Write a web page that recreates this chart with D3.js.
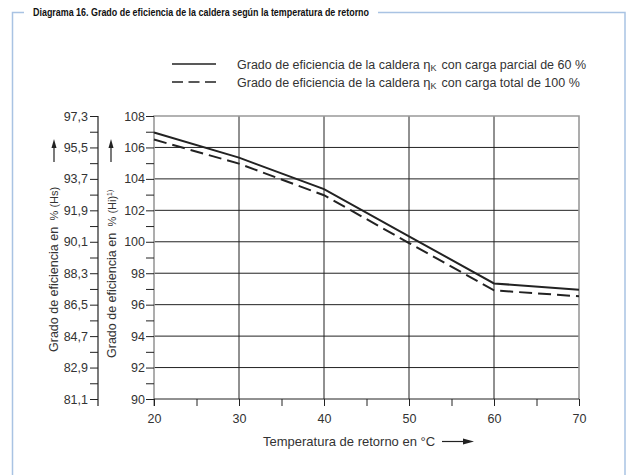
<!DOCTYPE html>
<html><head><meta charset="utf-8">
<script src="https://cdn.jsdelivr.net/npm/d3@7"></script>
<style>
html,body{margin:0;padding:0;background:#fff;}
svg{display:block;font-family:"Liberation Sans",Arial,sans-serif;}
</style></head>
<body>
<script>
const temps = [20, 30, 40, 50, 60, 70];
const partialLoad = [106.95, 105.35, 103.35, 100.35, 97.35, 96.95];
const fullLoad = [106.5, 104.97, 102.96, 99.92, 96.91, 96.53];
const hiTicks = [90, 92, 94, 96, 98, 100, 102, 104, 106, 108];
const hsTicks = [81.1, 82.9, 84.7, 86.5, 88.3, 90.1, 91.9, 93.7, 95.5, 97.3];
const xTicks = [20, 30, 40, 50, 60, 70];
const titleText = "Diagrama 16. Grado de eficiencia de la caldera según la temperatura de retorno";
const legendLabels = ["con carga parcial de 60 %", "con carga total de 100 %"];

const W = 631, H = 475;
const svg = d3.select("body").append("svg").attr("width", W).attr("height", H);
const ink = "#222", txt = "#333", gray = "#999", frameCol = "#a9c3e3";

const x = d3.scaleLinear().domain([20, 70]).range([154, 579]);
const y = d3.scaleLinear().domain([90, 108]).range([399, 116]);
const yHs = d3.scaleLinear().domain([81.1, 97.3]).range([399, 116]);

// Frame + title
const title = svg.append("text").attr("x", 33).attr("y", 16).attr("font-size", 10)
  .attr("font-weight", "bold").attr("fill", "#111")
  .attr("textLength", 336).attr("lengthAdjust", "spacingAndGlyphs").text(titleText);
const tEnd = 33 + 336;
svg.append("path").attr("fill", "none").attr("stroke", frameCol).attr("stroke-width", 1.5)
  .attr("d", `M24,12.5H12.5V475M${tEnd + 9},12.5H625V475`);

// grid
const g = svg.append("g");
g.selectAll(".hg").data(hiTicks.filter(d => d > 90 && d < 108)).join("line")
  .attr("x1", x(20)).attr("x2", x(70)).attr("y1", d => y(d)).attr("y2", d => y(d))
  .attr("stroke", ink).attr("stroke-width", 1);
g.selectAll(".vg").data(xTicks.filter(d => d > 20 && d < 70)).join("line")
  .attr("y1", y(90)).attr("y2", y(108)).attr("x1", d => x(d)).attr("x2", d => x(d))
  .attr("stroke", ink).attr("stroke-width", 1);

// plot border (top, right, left gray)
g.append("path").attr("fill", "none").attr("stroke", gray).attr("stroke-width", 1.6)
  .attr("d", `M${x(20)},${y(90) + 7}V${y(108)}H${x(70)}V${y(90)}`);

const tickFont = 12.5;
// Middle axis (Hi)
const axHi = d3.axisLeft(y).tickValues(d3.range(90, 108.5, 1)).tickSize(8)
  .tickFormat(d => hiTicks.includes(d) ? d3.format("d")(d) : "");
const gHi = svg.append("g").attr("transform", `translate(${x(20)},0)`).call(axHi);
gHi.select(".domain").remove();
gHi.selectAll(".tick line").attr("stroke", ink);
gHi.selectAll(".tick text").attr("fill", txt).attr("font-size", tickFont).attr("x", -9)
  .attr("font-family", "Liberation Sans, Arial, sans-serif");

// Left axis (Hs)
const hsAll = d3.range(0, 19).map(i => 81.1 + i * 0.9);
const axHs = d3.axisLeft(yHs).tickValues(hsAll).tickSize(8)
  .tickFormat((d, i) => i % 2 === 0 ? d3.format(".1f")(d).replace(".", ",") : "");
const gHs = svg.append("g").attr("transform", "translate(98,0)").call(axHs);
gHs.select(".domain").remove();
gHs.selectAll(".tick line").attr("stroke", ink);
gHs.selectAll(".tick text").attr("fill", txt).attr("font-size", tickFont).attr("x", -10)
  .attr("font-family", "Liberation Sans, Arial, sans-serif");
svg.append("line").attr("x1", 98).attr("x2", 98).attr("y1", 116).attr("y2", 406)
  .attr("stroke", ink).attr("stroke-width", 1.2);

// X axis
const axX = d3.axisBottom(x).tickValues(d3.range(20, 71, 5)).tickSize(7)
  .tickFormat(d => xTicks.includes(d) ? d : "");
const gX = svg.append("g").attr("transform", `translate(0,${y(90)})`).call(axX);
gX.select(".domain").attr("stroke", ink).attr("d", `M${x(20)},0H${x(70)}`);
gX.selectAll(".tick line").attr("stroke", ink);
gX.selectAll(".tick text").attr("fill", txt).attr("font-size", tickFont).attr("y", 15)
  .attr("font-family", "Liberation Sans, Arial, sans-serif");

// Axis titles
function arrowUp(cx, yBot, yTop) {
  svg.append("line").attr("x1", cx).attr("x2", cx).attr("y1", yBot).attr("y2", yTop + 6)
    .attr("stroke", ink).attr("stroke-width", 1.2);
  svg.append("path").attr("fill", ink)
    .attr("d", `M${cx},${yTop}L${cx - 2.5},${yTop + 9}L${cx + 2.5},${yTop + 9}Z`);
}
arrowUp(54, 162, 139);
arrowUp(111, 162, 139);

const t1 = svg.append("text").attr("transform", "translate(58,352) rotate(-90)")
  .attr("font-size", 12.5).attr("fill", txt);
t1.append("tspan").text("Grado de eficiencia en ");
t1.append("tspan").attr("font-size", 11).attr("dx", 3).text("% (Hs)");

const t2 = svg.append("text").attr("transform", "translate(116,358) rotate(-90)")
  .attr("font-size", 12.5).attr("fill", txt);
t2.append("tspan").text("Grado de eficiencia en ");
t2.append("tspan").attr("font-size", 11).attr("dx", 3).text("% (Hi)");
t2.append("tspan").attr("font-size", 7).attr("dy", -4).text("1)");

const xt = svg.append("text").attr("x", 263).attr("y", 446).attr("font-size", 13)
  .attr("fill", txt).text("Temperatura de retorno en °C");
svg.append("line").attr("x1", 442).attr("x2", 466).attr("y1", 441.5).attr("y2", 441.5)
  .attr("stroke", ink).attr("stroke-width", 1.2);
svg.append("path").attr("fill", ink).attr("d", "M474,441.5L463,438.5L463,444.5Z");

// Lines
const line = d3.line().x(d => x(d[0])).y(d => y(d[1]));
svg.append("path").datum(temps.map((t, i) => [t, partialLoad[i]]))
  .attr("d", line).attr("fill", "none").attr("stroke", ink).attr("stroke-width", 2);
svg.append("path").datum(temps.map((t, i) => [t, fullLoad[i]]))
  .attr("d", line).attr("fill", "none").attr("stroke", ink).attr("stroke-width", 2)
  .attr("stroke-dasharray", "13,6");

// Legend
const leg = svg.append("g");
[0, 1].forEach(i => {
  const yy = 64 + i * 18;
  leg.append("line").attr("x1", 172).attr("x2", 216).attr("y1", yy).attr("y2", yy)
    .attr("stroke", ink).attr("stroke-width", 1.3)
    .attr("stroke-dasharray", i === 1 ? "11,5.5" : null);
  const tt = leg.append("text").attr("x", 237).attr("y", yy + 4.5).attr("font-size", 12.5).attr("fill", txt);
  tt.append("tspan").text("Grado de eficiencia de la caldera ");
  tt.append("tspan").attr("font-size", 13).text("η");
  tt.append("tspan").attr("font-size", 9).attr("dy", 2).text("K");
  tt.append("tspan").attr("dy", -2).attr("dx", 5).text(legendLabels[i]);
});
</script>
</body></html>
